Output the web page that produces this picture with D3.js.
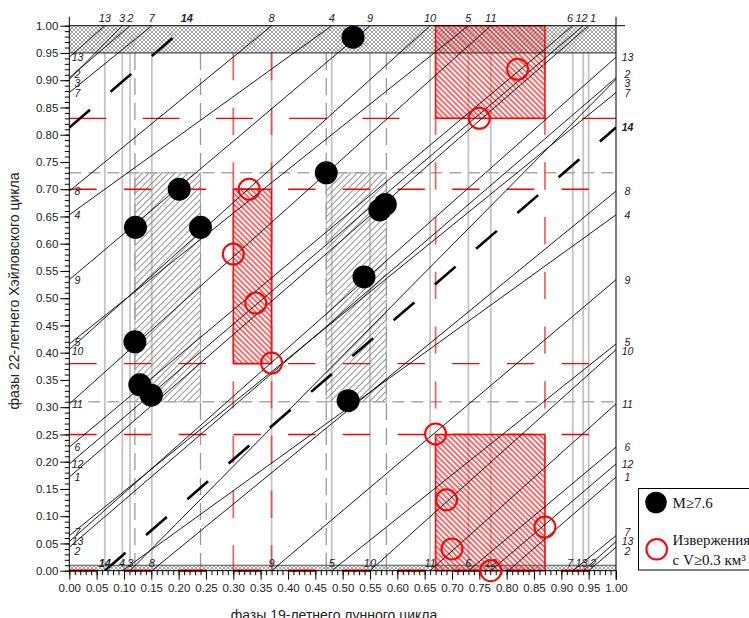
<!DOCTYPE html>
<html><head><meta charset="utf-8">
<script src="https://cdn.jsdelivr.net/npm/d3@7"></script>
<style>body{margin:0;background:#fff;} svg{display:block;}</style>
</head><body><svg id="c" width="749" height="618"></svg>
<script>
// ---------------- DATA ----------------
// 22-year Hale cycles: lunar phase at start (Hale phase 0) and at end (Hale phase 1)
const cycleNumbers = [1,2,3,4,5,6,7,8,9,10,11,12,13,14];
const cycleStart   = [0.803,0.950,0.111,0.097,0.480,0.730,0.921,0.151,0.370,0.550,0.660,0.771,0.940,0.065];
const cycleEnd     = [0.950,0.111,0.097,0.480,0.730,0.921,0.151,0.370,0.550,0.660,0.771,0.940,0.065,0.215];
const forecastCycle = 14;

// earthquakes M>=7.6
const quakeX = [0.519,0.201,0.121,0.240,0.470,0.568,0.578,0.539,0.120,0.129,0.150,0.510];
const quakeY = [0.979,0.700,0.630,0.630,0.730,0.662,0.672,0.539,0.420,0.341,0.322,0.312];
// eruptions V>=0.3 km3
const eruptX = [0.329,0.300,0.341,0.370,0.820,0.750,0.670,0.690,0.700,0.870,0.771];
const eruptY = [0.700,0.581,0.491,0.381,0.920,0.830,0.251,0.130,0.040,0.080,0.000];

// zones
const quakeZoneX0 = [0.12,0.47], quakeZoneX1 = [0.24,0.58];
const quakeZoneY0 = [0.31,0.31], quakeZoneY1 = [0.73,0.73];
const eruptZoneX0 = [0.30,0.67,0.67], eruptZoneX1 = [0.37,0.87,0.87];
const eruptZoneY0 = [0.38,0.83,0.00], eruptZoneY1 = [0.70,1.00,0.25];
const quakeLinesX = [0.12,0.24,0.47,0.58];
const quakeLinesY = [0.73,0.31];
const eruptLinesX = [0.30,0.37,0.67,0.87];
const eruptLinesY = [0.83,0.70,0.38,0.25,0.00];
const bandTop = [0.95,1.00];
const bandBottom = [0.00,0.01];

const majorTicks = d3.range(0,21).map(i=>i*0.05);
const minorTicks = d3.range(0,101).map(i=>i*0.01);

const legendLabels = ["M≥7.6","Извержения","с V≥0.3 км³"];
const xTitle = "фазы 19-летнего лунного цикла";
const yTitle = "фазы 22-летнего Хэйловского цикла";

// ---------------- DRAW ----------------
const svg = d3.select('#c');
const SANS = '"Liberation Sans", Arial, sans-serif';
const SERIF = '"Liberation Serif", "Times New Roman", serif';
const x = d3.scaleLinear().domain([0,1]).range([69.3,616]);
const y = d3.scaleLinear().domain([0,1]).range([570.7,25.7]);

svg.append('rect').attr('width',749).attr('height',618).attr('fill','#fff');
const defs = svg.append('defs');
function hatch(id,color,size,width,angle){
  const p = defs.append('pattern').attr('id',id).attr('patternUnits','userSpaceOnUse')
    .attr('width',size).attr('height',size).attr('patternTransform',`rotate(${angle})`);
  p.append('line').attr('x1',size/2).attr('y1',-1).attr('x2',size/2).attr('y2',size+1)
    .attr('stroke',color).attr('stroke-width',width);
}
hatch('grayHatch','#7a7a7a',4.6,0.8,45);
hatch('redHatch','#ff0000',3.8,1.15,-45);
const xp = defs.append('pattern').attr('id','cross').attr('patternUnits','userSpaceOnUse')
  .attr('width',4).attr('height',4);
xp.append('rect').attr('width',4).attr('height',4).attr('fill','#fff');
xp.append('path').attr('d','M0,0L4,4M4,0L0,4').attr('stroke','#777').attr('stroke-width',0.7);

const clip = defs.append('clipPath').attr('id','plot');
clip.append('rect').attr('x',x(0)).attr('y',y(1)).attr('width',x(1)-x(0)).attr('height',y(0)-y(1));

const g = svg.append('g');

// gray solid lines at cycle boundaries
const boundaries = cycleStart.filter((d,i)=>cycleNumbers[i]!==1);
g.selectAll('.bnd').data(boundaries).enter().append('line')
  .attr('x1',d=>x(d)).attr('x2',d=>x(d)).attr('y1',y(0)).attr('y2',y(1))
  .attr('stroke','#c4c4c4').attr('stroke-width',1.8);

// bands
[bandTop,bandBottom].forEach(b=>{
  g.append('rect').attr('x',x(0)).attr('y',y(b[1])).attr('width',x(1)-x(0)).attr('height',y(b[0])-y(b[1]))
    .attr('fill','url(#cross)');
});

// quake zones
quakeZoneX0.forEach((d,i)=>{
  g.append('rect').attr('x',x(d)).attr('y',y(quakeZoneY1[i])).attr('width',x(quakeZoneX1[i])-x(d))
   .attr('height',y(quakeZoneY0[i])-y(quakeZoneY1[i])).attr('fill','url(#grayHatch)')
   .attr('stroke','#b0b0b0').attr('stroke-width',1);
});
// eruption zones
eruptZoneX0.forEach((d,i)=>{
  g.append('rect').attr('x',x(d)).attr('y',y(eruptZoneY1[i])).attr('width',x(eruptZoneX1[i])-x(d))
   .attr('height',y(eruptZoneY0[i])-y(eruptZoneY1[i])).attr('fill','url(#redHatch)')
   .attr('stroke','#ff0000').attr('stroke-width',1.5);
});

// gray dashed lines
quakeLinesX.forEach(d=>{
  g.append('line').attr('x1',x(d)).attr('x2',x(d)).attr('y1',y(0.95)).attr('y2',y(0))
   .attr('stroke','#999').attr('stroke-width',1.3).attr('stroke-dasharray','17,8');
});
quakeLinesY.forEach(d=>{
  g.append('line').attr('x1',x(0)).attr('x2',x(1)).attr('y1',y(d)).attr('y2',y(d))
   .attr('stroke','#aaa').attr('stroke-width',1.5).attr('stroke-dasharray','12,7');
});
// red dashed lines
eruptLinesX.forEach(d=>{
  g.append('line').attr('x1',x(d)).attr('x2',x(d)).attr('y1',y(0.95)).attr('y2',y(0))
   .attr('stroke','#ee2a2a').attr('stroke-opacity',0.75).attr('stroke-width',1.7)
   .attr('stroke-dasharray','27.35,27.35');
});
eruptLinesY.forEach((d,i)=>{
  g.append('line').attr('x1',x(0)).attr('x2',x(1)).attr('y1',y(d)).attr('y2',y(d))
   .attr('stroke','#ff0000').attr('stroke-width',d===0?2.5:1.4)
   .attr('stroke-dasharray', i===0 ? '37,36.3' : '27.35,27.35');
});

// band border lines
[0.95,0.01].forEach(d=>{
  g.append('line').attr('x1',x(0)).attr('x2',x(1)).attr('y1',y(d)).attr('y2',y(d))
   .attr('stroke',d===0.95?'#222':'#555').attr('stroke-width',1);
});

// cycle trajectories
function cycleSegments(start,end){
  let span = ((end-start)%1+1)%1;
  if (span < 0.5) span += 1;
  const slope = 1/span;
  const segs=[], wraps=[];
  let x0=start, yv=0, rem=span;
  while (rem>1e-9){
    const len=Math.min(1-x0,rem);
    segs.push([[x0,yv],[x0+len,yv+len*slope]]);
    rem-=len; yv+=len*slope;
    if (rem>1e-9){ wraps.push(yv); x0=0; }
  }
  return {segs,wraps};
}
const lineGen = d3.line().x(d=>x(d[0])).y(d=>y(d[1]));
const topLab=[], botLab=[], leftLab=[], rightLab=[];
const lg = g.append('g').attr('clip-path','url(#plot)');
cycleNumbers.forEach((n,i)=>{
  const c = cycleSegments(cycleStart[i],cycleEnd[i]);
  const fc = n===forecastCycle;
  c.segs.forEach(s=>{
    lg.append('path').attr('d',lineGen(s)).attr('fill','none').attr('stroke','#000')
      .attr('stroke-width',fc?2.6:0.9).attr('stroke-dasharray',fc?'27.4,27.2':null);
  });
  const w = String(n).length*6.6;
  topLab.push({n,pos:x(cycleEnd[i]),w,bold:fc});
  if (n!==1) botLab.push({n,pos:x(cycleStart[i]),w,bold:fc});
  c.wraps.forEach(v=>{
    rightLab.push({n,pos:y(v),w:9,bold:fc});
    if(!fc) leftLab.push({n,pos:y(v),w:9,bold:fc});
  });
});

function spread(items,gap){
  items.sort((a,b)=>a.pos-b.pos);
  for(let it=0;it<300;it++){
    let moved=false;
    for(let i=1;i<items.length;i++){
      const need=(items[i].w+items[i-1].w)/2+gap;
      const have=items[i].pos-items[i-1].pos;
      if(have<need-0.01){const d=(need-have)/2;items[i].pos+=d;items[i-1].pos-=d;moved=true;}
    }
    if(!moved)break;
  }
}
spread(topLab,1.5); spread(botLab,1.5); spread(leftLab,0.5); spread(rightLab,0.5);
function drawLabels(items,horiz,fixed,size){
  items.forEach(d=>{
    g.append('text').attr('x',horiz?d.pos:fixed).attr('y',horiz?fixed:d.pos)
     .attr('dy',horiz?0:'0.36em').attr('text-anchor','middle')
     .attr('font-family',SANS).attr('font-size',size).attr('font-style','italic')
     .attr('font-weight',d.bold?'bold':'normal').attr('fill','#222').text(d.n);
  });
}
drawLabels(topLab,true,21.5,11);
drawLabels(botLab,true,567,11);
drawLabels(leftLab,false,77.5,10.5);
drawLabels(rightLab,false,627.5,10.5);

// axes lines
const axisG = svg.append('g');
axisG.append('line').attr('x1',x(0)).attr('x2',x(0)).attr('y1',16.7).attr('y2',y(0)).attr('stroke','#000');
axisG.append('line').attr('x1',x(1)).attr('x2',x(1)).attr('y1',16.7).attr('y2',y(0)+9).attr('stroke','#000');
axisG.append('line').attr('x1',x(0)).attr('x2',x(1)).attr('y1',y(0)).attr('y2',y(0)).attr('stroke','#000');
axisG.append('line').attr('x1',x(0)).attr('x2',625).attr('y1',y(1)).attr('y2',y(1)).attr('stroke','#000');

const fmt = d3.format('.2f');
function styleAxis(sel){
  sel.select('.domain').remove();
  sel.selectAll('line').attr('stroke','#000');
  sel.selectAll('text').attr('font-family',SANS).attr('font-size',11.5).attr('fill','#222');
}
svg.append('g').attr('transform',`translate(${x(0)},0)`)
  .call(d3.axisLeft(y).tickValues(minorTicks).tickSize(4.5).tickFormat('')).call(styleAxis);
svg.append('g').attr('transform',`translate(${x(0)},0)`)
  .call(d3.axisLeft(y).tickValues(majorTicks).tickSize(9).tickPadding(2).tickFormat(fmt)).call(styleAxis);
svg.append('g').attr('transform',`translate(0,${y(0)})`)
  .call(d3.axisBottom(x).tickValues(minorTicks).tickSize(4.5).tickFormat('')).call(styleAxis);
svg.append('g').attr('transform',`translate(0,${y(0)})`)
  .call(d3.axisBottom(x).tickValues(majorTicks).tickSize(9).tickPadding(4).tickFormat(fmt)).call(styleAxis);

// markers
svg.append('g').selectAll('circle').data(quakeX).enter().append('circle')
  .attr('cx',d=>x(d)).attr('cy',(d,i)=>y(quakeY[i])).attr('r',11.5).attr('fill','#000');
svg.append('g').selectAll('circle').data(eruptX).enter().append('circle')
  .attr('cx',d=>x(d)).attr('cy',(d,i)=>y(eruptY[i])).attr('r',10.5)
  .attr('fill','none').attr('stroke','#ff0000').attr('stroke-width',2);

// titles
svg.append('text').attr('transform','translate(19,291) rotate(-90)').attr('text-anchor','middle')
  .attr('font-family',SANS).attr('font-size',14).attr('fill','#222').text(yTitle);
svg.append('text').attr('x',334).attr('y',620).attr('text-anchor','middle')
  .attr('font-family',SANS).attr('font-size',14).attr('fill','#222').text(xTitle);

// legend
const leg = svg.append('g');
leg.append('rect').attr('x',638.5).attr('y',488.5).attr('width',130).attr('height',81.5)
  .attr('fill','#fff').attr('stroke','#000');
leg.append('circle').attr('cx',656).attr('cy',502.5).attr('r',10.8).attr('fill','#000');
leg.append('circle').attr('cx',656.7).attr('cy',549.3).attr('r',10.3).attr('fill','none')
  .attr('stroke','#ff0000').attr('stroke-width',2);
leg.append('text').attr('x',672.5).attr('y',508).attr('font-family',SERIF).attr('font-size',15)
  .attr('fill','#111').text(legendLabels[0]);
leg.append('text').attr('x',672.5).attr('y',545).attr('font-family',SERIF).attr('font-size',15)
  .attr('fill','#111').text(legendLabels[1]);
leg.append('text').attr('x',672.5).attr('y',564.5).attr('font-family',SERIF).attr('font-size',15)
  .attr('fill','#111').text(legendLabels[2]);
</script></body></html>
